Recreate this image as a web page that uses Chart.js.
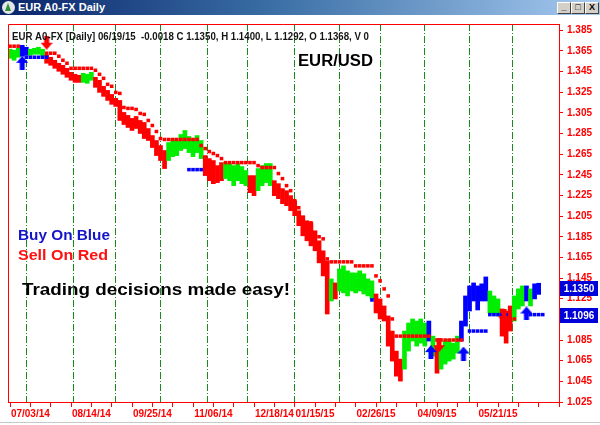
<!DOCTYPE html>
<html>
<head>
<meta charset="utf-8">
<title>EUR A0-FX Daily</title>
<script src="https://cdn.jsdelivr.net/npm/chart.js@4.4.1/dist/chart.umd.min.js"></script>
<style>
  html, body { margin: 0; padding: 0; background: #fff; }
  #wrap { position: relative; width: 600px; height: 425px; overflow: hidden; }
  #chart { position: absolute; left: 0; top: 0; }
  #titlebar {
    position: absolute; left: 0; top: 0; width: 600px; height: 15px; z-index: 2;
    background: linear-gradient(to right, #0a246a 0%, #3a6ea5 45%, #a6caf0 100%);
  }
  #icon {
    position: absolute; left: 2px; top: 1px; width: 13px; height: 13px;
    border-radius: 50%; background: #e4e8e4;
  }
  #icon:after {
    content: ''; position: absolute; left: 3px; top: 2px;
    border-left: 3.5px solid transparent; border-right: 3.5px solid transparent;
    border-bottom: 8px solid #2f8f3a;
  }
  #wintitle {
    position: absolute; left: 18px; top: 1px; color: #fff;
    font: bold 11px "Liberation Sans", Arial, sans-serif; line-height: 13px;
  }
  .btn {
    position: absolute; top: 2px; width: 12px; height: 10px;
    background: #d4d0c8; border: 1px solid; border-color: #fff #404040 #404040 #fff;
    font: bold 9px "Liberation Sans", Arial, sans-serif; line-height: 9px;
    text-align: center; color: #000;
  }
  #bottomline { position: absolute; left: 0; top: 422px; width: 600px; height: 1px; background: #c8c8c8; }
</style>
</head>
<body>
<div id="wrap">
  <canvas id="chart" width="600" height="425"></canvas>
  <div id="titlebar">
    <div id="icon"></div>
    <span id="wintitle">EUR A0-FX Daily</span>
    <div class="btn" style="left:557px">_</div>
    <div class="btn" style="left:571px">&#9633;</div>
    <div class="btn" style="left:585px">X</div>
  </div>
  <div id="bottomline"></div>
</div>
<script>
// EUR/USD daily bars 06/19/14 - 06/19/15, every 2nd trading day
const barStep = 2;
const priceHigh = [
  1.3666, 1.3656, 1.3675, 1.3704, 1.3685, 1.3666, 1.3675, 1.3685, 1.3666, 1.3607,
  1.3588, 1.3559, 1.3530, 1.3510, 1.3481, 1.3442, 1.3423, 1.3413, 1.3433, 1.3423,
  1.3442, 1.3394, 1.3365, 1.3307, 1.3267, 1.3228, 1.3190, 1.3170, 1.3054, 1.3025,
  1.2996, 1.3015, 1.2976, 1.2957, 1.2898, 1.2830, 1.2782, 1.2733, 1.2685, 1.2762,
  1.2801, 1.2782, 1.2840, 1.2879, 1.2821, 1.2801, 1.2830, 1.2782, 1.2636, 1.2607,
  1.2588, 1.2539, 1.2568, 1.2568, 1.2559, 1.2539, 1.2559, 1.2530, 1.2491, 1.2442,
  1.2442, 1.2510, 1.2539, 1.2559, 1.2559, 1.2393, 1.2364, 1.2316, 1.2296, 1.2248,
  1.2199, 1.2102, 1.2054, 1.2005, 1.1985, 1.1908, 1.1811, 1.1714, 1.1617, 1.1442,
  1.1403, 1.1539, 1.1568, 1.1520, 1.1500, 1.1500, 1.1520, 1.1491, 1.1442, 1.1423,
  1.1296, 1.1248, 1.1180, 1.1083, 1.0937, 1.0743, 1.0665, 1.0937, 1.1015, 1.1054,
  1.1034, 1.1054, 1.1015, 1.1034, 1.0888, 1.0791, 1.0791, 1.0840, 1.0859, 1.0820,
  1.0888, 1.1034, 1.1277, 1.1374, 1.1403, 1.1374, 1.1394, 1.1461, 1.1325, 1.1277,
  1.1248, 1.1151, 1.1131, 1.1180, 1.1277, 1.1345, 1.1374, 1.1374, 1.1345, 1.1394,
  1.1400
];
const priceLow = [
  1.3578, 1.3559, 1.3588, 1.3598, 1.3607, 1.3607, 1.3617, 1.3617, 1.3598, 1.3530,
  1.3510, 1.3481, 1.3452, 1.3423, 1.3394, 1.3365, 1.3345, 1.3345, 1.3345, 1.3336,
  1.3365, 1.3297, 1.3248, 1.3209, 1.3170, 1.3132, 1.3112, 1.2976, 1.2937, 1.2908,
  1.2879, 1.2898, 1.2850, 1.2801, 1.2782, 1.2714, 1.2636, 1.2588, 1.2510, 1.2588,
  1.2626, 1.2636, 1.2685, 1.2704, 1.2665, 1.2626, 1.2665, 1.2607, 1.2442, 1.2393,
  1.2364, 1.2374, 1.2393, 1.2413, 1.2393, 1.2345, 1.2393, 1.2364, 1.2345, 1.2277,
  1.2248, 1.2296, 1.2345, 1.2374, 1.2345, 1.2248, 1.2219, 1.2170, 1.2151, 1.2102,
  1.2054, 1.1957, 1.1859, 1.1811, 1.1762, 1.1714, 1.1597, 1.1471, 1.1102, 1.1228,
  1.1248, 1.1325, 1.1306, 1.1277, 1.1325, 1.1306, 1.1325, 1.1296, 1.1277, 1.1248,
  1.1112, 1.1054, 1.1034, 1.0791, 1.0646, 1.0500, 1.0452, 1.0568, 1.0743, 1.0840,
  1.0791, 1.0820, 1.0791, 1.0840, 1.0694, 1.0529, 1.0568, 1.0617, 1.0646, 1.0665,
  1.0724, 1.0840, 1.0985, 1.1131, 1.1228, 1.1141, 1.1228, 1.1228, 1.1112, 1.1093,
  1.1083, 1.0888, 1.0820, 1.0937, 1.1034, 1.1151, 1.1180, 1.1228, 1.1180, 1.1248,
  1.1292
];
// G = neutral, R = sell state, B = buy state
const barSignal = (
  'GGGBBGGGGR' + 'RRRRRRRRGG' + 'GRRRRRRRRR' + 'RRRRRRRRRG' + 'GGGGGGGGRR' +
  'RRRGGGGGGR' + 'RGGGGRRRRR' + 'RRRRRRRRRG' + 'RGGGGGGGGG' + 'RRRRRRRGGG' +
  'GGGBGRGGGG' + 'GBBBBBBBGG' + 'GRRRGGGBGB' + 'B'
).split('');

// trailing stops (day index, price)
const sellStopDay = [0, 2, 4, 18, 20, 22, 24, 26, 28, 30, 32, 34, 36, 38, 40, 42, 44, 46, 48, 50,
  52, 54, 56, 58, 60, 62, 64, 66, 68, 70, 72, 74, 76, 78, 80, 82, 84, 86, 88, 90,
  92, 94, 96, 98, 100, 102, 104, 106, 108, 110, 112, 114, 116, 118, 120, 122, 124, 126, 128, 130,
  132, 134, 136, 138, 140, 142, 144, 146, 148, 150, 152, 154, 156, 158, 160, 162, 164, 166, 168, 170,
  172, 174, 176, 178, 180, 182, 184, 186, 188, 190, 192, 194, 196, 198, 200, 202, 204, 206,
  210, 212, 214, 216, 218, 220, 222, 246, 248];
const sellStopPrice = [1.3695, 1.3695, 1.3695, 1.3627, 1.3627, 1.3627, 1.3598, 1.3559, 1.3530, 1.3481,
  1.3481, 1.3481, 1.3481, 1.3481, 1.3481, 1.3462, 1.3423, 1.3384, 1.3326, 1.3307,
  1.3248, 1.3238, 1.3102, 1.3093, 1.3093, 1.3083, 1.3044, 1.3035, 1.2976, 1.2927,
  1.2869, 1.2801, 1.2792, 1.2792, 1.2792, 1.2792, 1.2792, 1.2792, 1.2792, 1.2792,
  1.2792, 1.2733, 1.2704, 1.2675, 1.2656, 1.2636, 1.2607, 1.2568, 1.2568, 1.2568,
  1.2568, 1.2568, 1.2568, 1.2568, 1.2568, 1.2539, 1.2520, 1.2520, 1.2520, 1.2520,
  1.2462, 1.2413, 1.2345, 1.2296, 1.2199, 1.2131, 1.2025, 1.1985, 1.1985, 1.1879,
  1.1850, 1.1830, 1.1636, 1.1607, 1.1607, 1.1607, 1.1607, 1.1607, 1.1607, 1.1568,
  1.1568, 1.1568, 1.1568, 1.1568, 1.1471, 1.1423, 1.1345, 1.1277, 1.1054, 1.0888,
  1.0888, 1.0888, 1.0888, 1.0888, 1.0888, 1.0888, 1.0888, 1.0888,
  1.0850, 1.0850, 1.0850, 1.0850, 1.0850, 1.0850, 1.0850, 1.1054, 1.1054];
const buyStopDay = [8, 10, 12, 14, 16, 18, 88, 90, 92, 94, 178,
  226, 228, 230, 232, 234, 236, 238, 240, 242, 244, 254, 256, 258, 260, 262];
const buyStopPrice = [1.3588, 1.3588, 1.3588, 1.3588, 1.3588, 1.3588, 1.2500, 1.2500, 1.2500, 1.2500, 1.1238,
  1.0937, 1.0937, 1.0937, 1.0937, 1.0937, 1.1096, 1.1096, 1.1096, 1.1096, 1.1096,
  1.1096, 1.1096, 1.1096, 1.1096, 1.1096];

// signal arrows
const buyArrowDay = [6, 207, 223, 254];
const buyArrowPrice = [1.3534, 1.0733, 1.0719, 1.1107];
const sellArrowDay = [18, 211, 243];
const sellArrowPrice = [1.3729, 1.0800, 1.1080];

// axes
const yTickValues = [1.025, 1.045, 1.065, 1.085, 1.105, 1.125, 1.145, 1.165, 1.185, 1.205,
  1.225, 1.245, 1.265, 1.285, 1.305, 1.325, 1.345, 1.365, 1.385];
const xTickDays = [0, 10, 20, 30, 40, 50, 60, 70, 80, 90, 100, 110, 120, 130, 140, 150, 160,
  170, 180, 190, 200, 210, 220, 230, 240, 250, 260, 270];
const xLabelDays = [10, 40, 70, 100, 130, 150, 180, 210, 240];
const xLabelText = ['07/03/14', '08/14/14', '09/25/14', '11/06/14', '12/18/14', '01/15/15',
  '02/26/15', '04/09/15', '05/21/15'];
const monthStartDays = [8, 31, 52, 74, 97, 117, 140, 162, 182, 204, 226, 247];

// right axis markers: last close and current buy stop
const markerValues = [1.1350, 1.1096];

const headerText = 'EUR A0-FX [Daily] 06/19/15  -0.0018 C 1.1350, H 1.1400, L 1.1292, O 1.1368, V 0';

const signalColors = { G: '#00ee00', R: '#ff0000', B: '#0000ff' };
const FONT = '"Liberation Sans", Arial, sans-serif';
Chart.defaults.font.family = FONT;

function arrowImage(color, up) {
  const c = document.createElement('canvas');
  c.width = 12; c.height = 14;
  const g = c.getContext('2d');
  g.fillStyle = color;
  g.beginPath();
  const pts = [[6, 0], [12, 7], [8.5, 7], [8.5, 14], [3.5, 14], [3.5, 7], [0, 7]];
  pts.forEach(([px, py], i) => {
    const yy = up ? py : 14 - py;
    if (i === 0) g.moveTo(px, yy); else g.lineTo(px, yy);
  });
  g.closePath();
  g.fill();
  return c;
}

// draw text squeezed/stretched to the width it has in the picture
function fitText(ctx, text, x, y, width, font, color) {
  ctx.save();
  ctx.font = font;
  const w = ctx.measureText(text).width;
  ctx.translate(x, y);
  ctx.scale(width / w, 1);
  ctx.fillStyle = color;
  ctx.textAlign = 'left';
  ctx.textBaseline = 'middle';
  ctx.fillText(text, 0, 0);
  ctx.restore();
}

const annotate = {
  id: 'annotate',
  afterDraw(chart) {
    const { ctx, chartArea: a } = chart;
    const y = chart.scales.y;
    ctx.save();
    ctx.strokeStyle = '#ff0000';
    ctx.lineWidth = 1;
    ctx.beginPath();
    ctx.moveTo(a.left + 0.5, a.bottom);
    ctx.lineTo(a.left + 0.5, a.top + 0.5);
    ctx.lineTo(a.right, a.top + 0.5);
    ctx.stroke();

    fitText(ctx, headerText, 12, 37, 357, 'bold 10px ' + FONT, '#141414');
    fitText(ctx, 'EUR/USD', 298, 62, 75, 'bold 16px ' + FONT, '#000');
    fitText(ctx, 'Buy On Blue', 18, 236, 92, 'bold 15px ' + FONT, '#1414c8');
    fitText(ctx, 'Sell On Red', 18, 256, 90, 'bold 15px ' + FONT, '#ff1010');
    fitText(ctx, 'Trading decisions made easy!', 22, 291, 268, 'bold 16px ' + FONT, '#000');

    markerValues.forEach(v => {
      const py = Math.round(y.getPixelForValue(v));
      ctx.fillStyle = '#0000d8';
      ctx.fillRect(a.right + 1, py - 7, 38, 15);
      ctx.fillStyle = '#ffffff';
      ctx.font = 'bold 10px ' + FONT;
      ctx.textAlign = 'center';
      ctx.textBaseline = 'middle';
      ctx.fillText(v.toFixed(4), a.right + 20, py + 1);
    });
    ctx.restore();
  }
};

const bars = priceHigh.map((h, i) => ({ x: i * barStep, y: [priceLow[i], h] }));

new Chart(document.getElementById('chart'), {
  type: 'bar',
  data: {
    datasets: [
      {
        type: 'scatter',
        order: 0,
        data: buyArrowDay.map((d, i) => ({ x: d, y: buyArrowPrice[i] })),
        pointStyle: arrowImage('#0000ff', true),
        pointRadius: 7
      },
      {
        type: 'scatter',
        order: 0,
        data: sellArrowDay.map((d, i) => ({ x: d, y: sellArrowPrice[i] })),
        pointStyle: arrowImage('#ff0000', false),
        pointRadius: 7
      },
      {
        type: 'scatter',
        order: 1,
        data: sellStopDay.map((d, i) => ({ x: d, y: sellStopPrice[i] })),
        pointStyle: 'line',
        pointRadius: 1.8,
        pointBorderWidth: 3.5,
        pointBorderColor: '#ff0000',
        pointBackgroundColor: '#ff0000'
      },
      {
        type: 'scatter',
        order: 1,
        data: buyStopDay.map((d, i) => ({ x: d, y: buyStopPrice[i] })),
        pointStyle: 'line',
        pointRadius: 1.8,
        pointBorderWidth: 3.5,
        pointBorderColor: '#0000ff',
        pointBackgroundColor: '#0000ff'
      },
      {
        order: 2,
        data: bars,
        backgroundColor: barSignal.map(s => signalColors[s]),
        borderWidth: 0,
        barThickness: 4,
        grouped: false
      }
    ]
  },
  options: {
    responsive: false,
    animation: false,
    events: [],
    layout: { padding: { left: 7, top: 24, right: 0, bottom: 0 } },
    plugins: { legend: { display: false }, tooltip: { enabled: false } },
    scales: {
      x: {
        type: 'linear',
        position: 'bottom',
        min: -1,
        max: 270,
        offset: false,
        afterBuildTicks: s => { s.ticks = xTickDays.map(v => ({ value: v })); },
        afterFit: s => { s.height = 23; },
        grid: { drawOnChartArea: false, drawTicks: true, tickLength: 5, tickColor: '#ff0000', offset: false },
        border: { display: true, color: '#ff0000' },
        ticks: {
          autoSkip: false,
          maxRotation: 0,
          padding: 1,
          color: '#ff0000',
          font: { size: 10, weight: 'bold' },
          callback: v => {
            const k = xLabelDays.indexOf(v);
            return k >= 0 ? xLabelText[k] : '';
          }
        }
      },
      xm: {
        type: 'linear',
        position: 'top',
        min: -1,
        max: 270,
        offset: false,
        afterBuildTicks: s => { s.ticks = monthStartDays.map(v => ({ value: v })); },
        afterFit: s => { s.height = 0; },
        grid: { drawOnChartArea: true, drawTicks: false, color: '#1a8a1a', lineWidth: 1, offset: false },
        border: { display: false, dash: [7, 2, 1, 2] },
        ticks: { display: false }
      },
      y: {
        type: 'linear',
        position: 'right',
        min: 1.025,
        max: 1.391,
        afterBuildTicks: s => { s.ticks = yTickValues.map(v => ({ value: v })); },
        afterFit: s => { s.width = 41; },
        grid: { drawOnChartArea: false, drawTicks: true, tickLength: 4, tickColor: '#ff0000' },
        border: { display: true, color: '#ff0000' },
        ticks: {
          padding: 4,
          color: '#ff0000',
          font: { size: 10, weight: 'bold' },
          callback: v => v.toFixed(3)
        }
      }
    }
  },
  plugins: [annotate]
});
</script>
</body>
</html>
